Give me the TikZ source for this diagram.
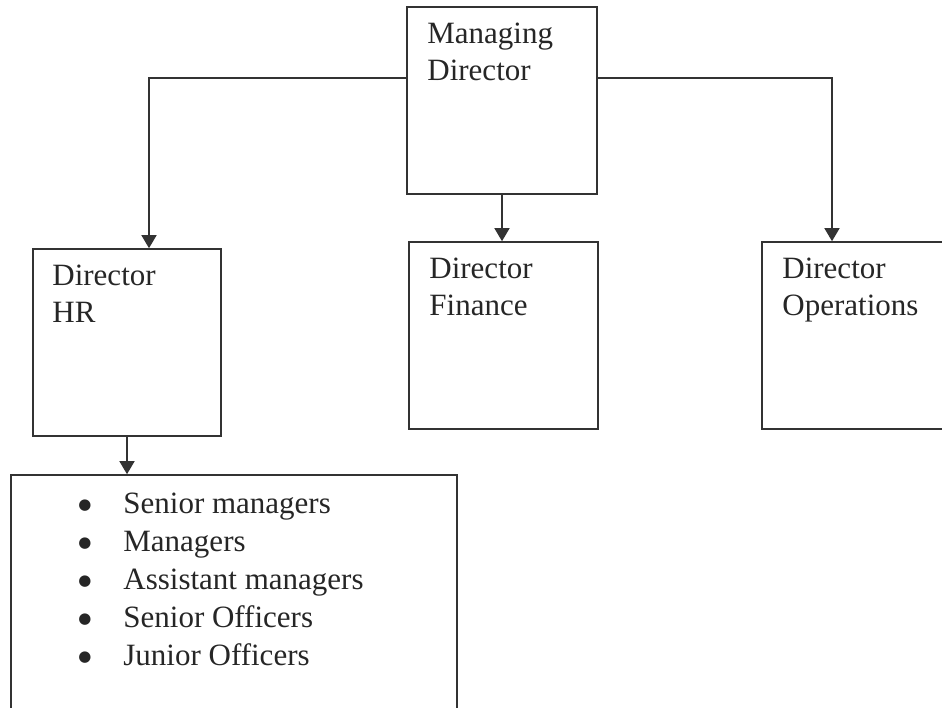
\documentclass[tikz,border=0pt]{standalone}
\usepackage{fontspec}
\setmainfont{Liberation Serif}
\newfontfamily\dotfont{DejaVu Sans}
\usetikzlibrary{arrows.meta}
\tikzstyle{post} = [rectangle, draw=black!80, line width=1.6pt, inner sep=0pt, minimum height=187pt]
\tikzstyle{boxtext} = [align=left, inner sep=0pt, anchor=north west, text=black!85, font=\fontsize{31}{37}\selectfont]
\tikzstyle{arrow} = [line width=1.5pt, draw=black!80, -{Triangle[length=13pt,width=15pt]}]
\newcommand{\staffitem}{\makebox[45pt][l]{\raisebox{4pt}{\dotfont\fontsize{15}{15}\selectfont ●}}}

\begin{document}
\begin{tikzpicture}[x=1pt, y=-1pt]
   \useasboundingbox (0,0) rectangle (942,708);
   \clip (0,0) rectangle (942,708);

   \node (md) [post, minimum width=190pt] at (502,100.5) {};
   \node (hr) [post, minimum width=188pt] at (127,342.5) {};
   \node (fin) [post, minimum width=189pt] at (503.5,335.5) {};
   \node (ops) [post, minimum width=181pt] at (852.5,335.5) {};
   \node (staff) [post, minimum width=446pt, minimum height=250pt] at (234,600) {};

   \node (mdtext) [boxtext] at ([shift={(21,17)}]md.north west) {Managing\\Director};
   \node (hrtext) [boxtext] at ([shift={(20,17)}]hr.north west) {Director\\HR};
   \node (fintext) [boxtext] at ([shift={(21,17)}]fin.north west) {Director\\Finance};
   \node (opstext) [boxtext] at ([shift={(21,17)}]ops.north west) {Director\\Operations};
   \node (stafftext) [boxtext, font=\fontsize{31}{38}\selectfont] at ([shift={(68,19)}]staff.north west)
      {\staffitem Senior managers\\
       \staffitem Managers\\
       \staffitem Assistant managers\\
       \staffitem Senior Officers\\
       \staffitem Junior Officers};

   \draw [arrow] ([yshift=22.5pt]md.west) -| ([xshift=22pt]hr.north);
   \draw [arrow] ([yshift=22.5pt]md.east) -| ([xshift=-20.5pt]ops.north);
   \draw [arrow] (md.south) -- (md.south |- fin.north);
   \draw [arrow] (hr.south) -- (hr.south |- staff.north);
\end{tikzpicture}
\end{document}
